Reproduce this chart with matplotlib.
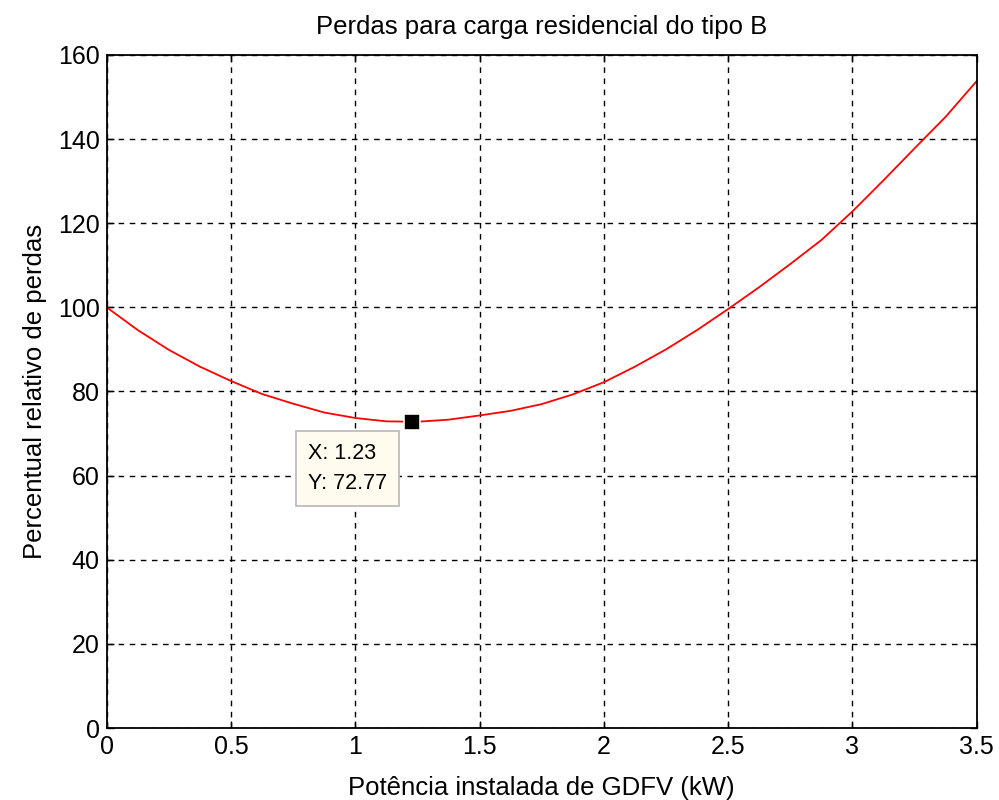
import matplotlib.pyplot as plt
import matplotlib.ticker as ticker

plt.rcParams['font.family'] = ['Liberation Sans', 'DejaVu Sans']

# potencia instalada (kW) e perdas relativas (%)
potencia = [0.0, 0.125, 0.25, 0.375, 0.5, 0.625, 0.75, 0.875, 1.0, 1.125,
            1.25, 1.375, 1.5, 1.625, 1.75, 1.875, 2.0, 2.125, 2.25, 2.375,
            2.5, 2.625, 2.75, 2.875, 3.0, 3.125, 3.25, 3.375, 3.5]
perdas = [100.0, 94.6, 89.9, 85.9, 82.5, 79.4, 77.1, 75.0, 73.7, 72.9,
          72.8, 73.3, 74.3, 75.4, 77.0, 79.3, 82.2, 85.9, 90.0, 94.6,
          99.6, 104.8, 110.3, 116.0, 122.8, 130.2, 137.8, 145.3, 153.8]

# ponto minimo marcado
x_min = 1.23
y_min = 72.77

fig = plt.figure(figsize=(9.99, 8), dpi=100)
ax = fig.add_axes([0.1068, 0.09, 0.8709, 0.8413])

ax.plot(potencia, perdas, color='red', linewidth=1.3)
ax.plot([x_min], [y_min], marker='s', markersize=11.5, color='black',
        markeredgecolor='#fffbef', markeredgewidth=1.2, linestyle='none', zorder=5)

ax.annotate(f"X: {x_min}\nY: {y_min}", xy=(x_min, y_min),
            xytext=(-75, -15), textcoords='offset points',
            ha='left', va='top', fontsize=15.5, linespacing=1.6,
            bbox=dict(boxstyle='square,pad=0.55', fc='#fffbef', ec='#bdbdbd', lw=1.3),
            zorder=6)

ax.set_xlim(0, 3.5)
ax.set_ylim(0, 160)
ax.xaxis.set_major_locator(ticker.MultipleLocator(0.5))
ax.yaxis.set_major_locator(ticker.MultipleLocator(20))
ax.xaxis.set_major_formatter(ticker.FuncFormatter(lambda v, p: f"{v:g}"))

ax.grid(True, color='black', linestyle=(0, (4, 4)), linewidth=1.0)
ax.tick_params(direction='in', length=5, width=1, top=True, right=True,
               labelsize=18, pad=5)
for s in ax.spines.values():
    s.set_linewidth(1.3)

ax.set_title("Perdas para carga residencial do tipo B", fontsize=18.5, pad=15)
ax.set_xlabel("Potência instalada de GDFV (kW)", fontsize=18.5, labelpad=12)
ax.set_ylabel("Percentual relativo de perdas", fontsize=18.5, labelpad=8)

plt.savefig("out.png", dpi=100)
